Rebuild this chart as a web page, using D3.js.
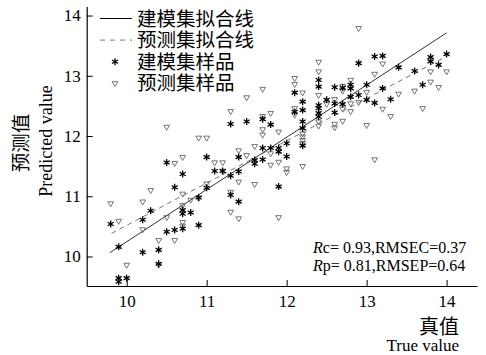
<!DOCTYPE html>
<html><head><meta charset="utf-8">
<script src="https://cdn.jsdelivr.net/npm/d3@7"></script>
<style>body{margin:0;background:#fff}svg{display:block}</style>
</head><body>
<script>
// ---- data ----
const xTicks = [10, 11, 12, 13, 14];
const yTicks = [10, 11, 12, 13, 14];
const legendLabels = ["建模集拟合线", "预测集拟合线", "建模集样品", "预测集样品"];
// calibration set (stars): [true, predicted]
const calTrue = [9.9,9.9,10.0,9.9,9.8,10.2,10.2,10.3,10.4,10.4,10.5,10.6,10.7,10.9,10.7,10.7,10.8,10.6,10.7,10.5,11.0,11.1,11.2,11.0,10.9,11.3,11.4,11.3,11.4,11.3,11.5,11.4,11.6,11.6,11.7,11.8,11.7,11.9,11.9,12.0,12.0,11.7,11.8,11.9,12.1,12.2,12.2,12.2,12.2,12.2,12.4,12.4,12.4,12.4,12.4,12.4,12.5,12.6,12.6,12.6,12.7,12.7,12.8,12.8,12.8,12.9,12.9,13.0,13.0,13.1,13.2,13.1,13.2,13.3,13.4,13.6,13.7,13.8,13.8,13.9,14.0,12.1];
const calPred = [9.64,9.58,9.64,10.16,10.54,10.07,10.61,10.76,10.11,9.88,10.41,10.44,10.46,10.52,10.77,10.71,10.73,11.15,11.37,11.56,11.65,11.42,11.42,11.14,10.98,11.02,10.91,11.34,11.41,12.20,12.24,11.65,11.60,11.54,11.80,11.80,11.61,11.80,11.74,11.66,11.88,12.28,12.19,11.16,12.72,12.57,12.43,12.24,12.13,11.84,12.93,12.82,12.51,12.46,12.38,12.32,12.60,12.81,12.54,12.39,12.53,12.80,12.85,12.79,12.65,13.21,12.68,12.85,12.60,13.32,13.33,12.55,12.79,12.61,13.14,13.08,12.85,13.31,13.24,13.18,13.36,12.40];
// prediction set (triangles)
const preTrue = [9.8,10.2,10.3,9.9,10.2,10.5,10.7,10.8,10.9,10.7,10.7,10.7,10.4,10.6,10.0,10.4,11.3,10.5,10.9,11.0,11.1,11.2,10.6,10.7,11.2,11.4,11.4,11.0,11.7,11.5,12.1,12.2,12.4,12.1,12.1,12.4,12.4,12.2,12.2,12.2,12.2,11.7,11.8,11.7,11.7,11.9,11.6,11.5,11.8,11.8,11.9,12.0,12.0,12.2,11.3,11.6,11.3,11.4,11.9,12.9,13.2,13.1,12.7,12.7,12.8,13.0,13.4,12.5,12.7,12.8,12.8,12.9,13.2,13.3,12.6,12.6,12.7,13.0,13.1,13.6,13.7,13.8,13.8,14.0,13.9,12.4,12.4,12.1,12.6];
const prePred = [10.88,10.91,11.10,10.59,10.45,10.65,11.04,10.94,10.97,10.85,10.57,10.51,10.27,10.27,9.86,9.86,12.41,12.15,11.97,11.97,11.56,11.56,11.55,11.65,11.42,11.76,11.24,11.21,12.78,12.64,12.86,12.72,12.68,12.46,12.35,12.24,12.17,12.04,11.99,11.93,11.88,12.33,12.38,12.11,12.02,12.07,11.83,11.68,11.71,11.52,11.57,11.46,11.40,11.50,11.07,11.20,10.74,10.63,10.65,13.79,13.20,13.03,12.83,12.75,12.93,12.73,12.70,12.53,12.45,12.54,12.41,12.56,12.45,12.33,12.20,12.14,12.25,12.18,11.61,12.75,12.46,12.90,13.07,13.07,12.81,13.23,13.07,12.96,12.61];
// fitted lines: slope, intercept, x range
const calFit = {slope: 0.867, intercept: 1.575, x0: 9.79, x1: 14.0};
const preFit = {slope: 0.702, intercept: 3.497, x0: 9.81, x1: 13.99};
const statLines = [["c", "= 0.93,RMSEC=0.37"], ["p", "= 0.81,RMSEP=0.64"]];

// ---- drawing ----
const W = 486, H = 355;
const svg = d3.select("body").append("svg").attr("width", W).attr("height", H);
const x = d3.scaleLinear().domain([9.5, 14.38]).range([86.7, 477]);
const y = d3.scaleLinear().domain([9.51, 14.15]).range([286, 6.5]);
const serif = "'Liberation Serif','Times New Roman',Times,'DejaVu Serif',serif";
const cjk = "'Noto Sans CJK SC',sans-serif";

// axes
const gx = svg.append("g").attr("transform", `translate(0,${y.range()[0]})`)
  .call(d3.axisBottom(x).tickValues(xTicks).tickSizeInner(-6).tickSizeOuter(0).tickPadding(9).tickFormat(d3.format("d")));
const gy = svg.append("g").attr("transform", `translate(${x.range()[0]},0)`)
  .call(d3.axisLeft(y).tickValues(yTicks).tickSizeInner(-6).tickSizeOuter(0).tickPadding(6).tickFormat(d3.format("d")));
[gx, gy].forEach(g => {
  g.select(".domain").attr("stroke", "#000").attr("stroke-width", 1.2);
  g.selectAll(".tick line").attr("stroke", "#000");
  g.selectAll(".tick text").attr("font-family", serif).attr("font-size", 17).attr("fill", "#000");
});

// fit lines
const line = d3.line().x(d => x(d[0])).y(d => y(d[1]));
svg.append("path").datum([[calFit.x0, calFit.slope*calFit.x0+calFit.intercept],[calFit.x1, calFit.slope*calFit.x1+calFit.intercept]])
  .attr("d", line).attr("stroke", "#333").attr("stroke-width", 1).attr("fill", "none");
svg.append("path").datum([[preFit.x0, preFit.slope*preFit.x0+preFit.intercept],[preFit.x1, preFit.slope*preFit.x1+preFit.intercept]])
  .attr("d", line).attr("stroke", "#777").attr("stroke-width", 1).attr("stroke-dasharray", "5,4").attr("fill", "none");

// points
const star = d3.symbol().type(d3.symbolAsterisk).size(34);
const tri = d3.symbol().type(d3.symbolTriangle2).size(24);
svg.append("g").selectAll("path").data(preTrue.map((t,i)=>[t, prePred[i]])).join("path")
  .attr("d", tri).attr("transform", d => `translate(${x(d[0])},${y(d[1])}) rotate(180)`)
  .attr("fill", "none").attr("stroke", "#666").attr("stroke-width", 0.9);
svg.append("g").selectAll("path").data(calTrue.map((t,i)=>[t, calPred[i]])).join("path")
  .attr("d", star).attr("transform", d => `translate(${x(d[0])},${y(d[1])})`)
  .attr("fill", "none").attr("stroke", "#000").attr("stroke-width", 1.3);

// legend
const lg = svg.append("g");
const rowY = i => 18.5 + i * 21.6;
lg.append("line").attr("x1", 100).attr("x2", 132).attr("y1", rowY(0)).attr("y2", rowY(0)).attr("stroke", "#000").attr("stroke-width", 1);
lg.append("line").attr("x1", 100).attr("x2", 132).attr("y1", rowY(1)).attr("y2", rowY(1)).attr("stroke", "#777").attr("stroke-width", 1).attr("stroke-dasharray", "5,5");
lg.append("path").attr("d", star).attr("transform", `translate(115,${rowY(2)})`).attr("fill","none").attr("stroke","#000").attr("stroke-width",1.3);
lg.append("path").attr("d", tri).attr("transform", `translate(115,${rowY(3)}) rotate(180)`).attr("fill","none").attr("stroke","#666").attr("stroke-width",0.9);
lg.selectAll("text").data(legendLabels).join("text")
  .attr("x", 137).attr("y", (d,i) => rowY(i)).attr("dy", "0.36em")
  .attr("font-family", cjk).attr("font-size", 19.5).attr("fill", "#000").text(d => d);

// stats
const st = svg.append("g");
statLines.forEach((s, i) => {
  const t = st.append("text").attr("x", 313).attr("y", 253 + i * 17.5)
    .attr("font-family", serif).attr("font-size", 16).attr("fill", "#000");
  t.append("tspan").attr("font-style", "italic").text("R");
  t.append("tspan").text(s[0] + s[1]);
});

// axis titles
svg.append("text").attr("x", 459).attr("y", 334).attr("text-anchor", "end")
  .attr("font-family", cjk).attr("font-size", 20).attr("fill", "#000").text("真值");
svg.append("text").attr("x", 459).attr("y", 351).attr("text-anchor", "end")
  .attr("font-family", serif).attr("font-size", 17).attr("fill", "#000").text("True value");
svg.append("text").attr("transform", "translate(28,143) rotate(-90)").attr("text-anchor", "middle")
  .attr("font-family", cjk).attr("font-size", 19.5).attr("fill", "#000").text("预测值");
svg.append("text").attr("transform", "translate(52,141) rotate(-90)").attr("text-anchor", "middle")
  .attr("font-family", serif).attr("font-size", 18).attr("fill", "#000").text("Predicted value");
</script>
</body></html>
